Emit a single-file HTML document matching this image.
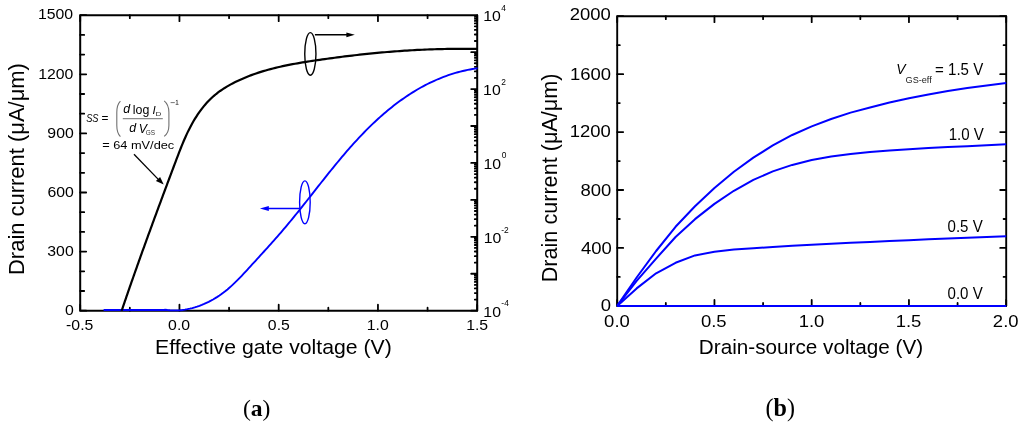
<!DOCTYPE html>
<html><head><meta charset="utf-8"><title>Drain current plots</title>
<style>html,body{margin:0;padding:0;background:#fff;width:1024px;height:430px;overflow:hidden}svg{display:block;will-change:transform}</style></head>
<body>
<svg width="1024" height="430" viewBox="0 0 1024 430">
<defs><clipPath id="ca"><rect x="80.2" y="15.2" width="397" height="295.5"/></clipPath></defs>
<rect width="1024" height="430" fill="#fff"/>
<rect x="80.2" y="15.2" width="397" height="295.5" fill="none" stroke="#000" stroke-width="2" stroke-linejoin="round"/>
<rect x="617.2" y="16.2" width="389" height="289.7" fill="none" stroke="#000" stroke-width="1.9" stroke-linejoin="round"/>
<path d="M80.2 310.7V304.7M80.2 15.2V21.2M129.82 310.7V307.7M129.82 15.2V18.2M179.45 310.7V304.7M179.45 15.2V21.2M229.07 310.7V307.7M229.07 15.2V18.2M278.7 310.7V304.7M278.7 15.2V21.2M328.32 310.7V307.7M328.32 15.2V18.2M377.95 310.7V304.7M377.95 15.2V21.2M427.57 310.7V307.7M427.57 15.2V18.2M477.2 310.7V304.7M477.2 15.2V21.2M80.2 310.7H86.2M80.2 291H84.2M80.2 271.3H84.2M80.2 251.6H86.2M80.2 231.9H84.2M80.2 212.2H84.2M80.2 192.5H86.2M80.2 172.8H84.2M80.2 153.1H84.2M80.2 133.4H86.2M80.2 113.7H84.2M80.2 94H84.2M80.2 74.3H86.2M80.2 54.6H84.2M80.2 34.9H84.2M80.2 15.2H86.2M477.2 310.7H471.2M477.2 299.58H474.8M477.2 293.08H474.8M477.2 288.46H474.8M477.2 284.88H474.8M477.2 281.96H474.8M477.2 279.48H474.8M477.2 277.34H474.8M477.2 275.45H474.8M477.2 273.76H471.2M477.2 262.64H474.8M477.2 256.14H474.8M477.2 251.52H474.8M477.2 247.94H474.8M477.2 245.02H474.8M477.2 242.55H474.8M477.2 240.4H474.8M477.2 238.52H474.8M477.2 236.82H471.2M477.2 225.71H474.8M477.2 219.2H474.8M477.2 214.59H474.8M477.2 211.01H474.8M477.2 208.08H474.8M477.2 205.61H474.8M477.2 203.47H474.8M477.2 201.58H474.8M477.2 199.89H471.2M477.2 188.77H474.8M477.2 182.26H474.8M477.2 177.65H474.8M477.2 174.07H474.8M477.2 171.14H474.8M477.2 168.67H474.8M477.2 166.53H474.8M477.2 164.64H474.8M477.2 162.95H471.2M477.2 151.83H474.8M477.2 145.33H474.8M477.2 140.71H474.8M477.2 137.13H474.8M477.2 134.21H474.8M477.2 131.73H474.8M477.2 129.59H474.8M477.2 127.7H474.8M477.2 126.01H471.2M477.2 114.89H474.8M477.2 108.39H474.8M477.2 103.77H474.8M477.2 100.19H474.8M477.2 97.27H474.8M477.2 94.8H474.8M477.2 92.65H474.8M477.2 90.77H474.8M477.2 89.07H471.2M477.2 77.96H474.8M477.2 71.45H474.8M477.2 66.84H474.8M477.2 63.26H474.8M477.2 60.33H474.8M477.2 57.86H474.8M477.2 55.72H474.8M477.2 53.83H474.8M477.2 52.14H471.2M477.2 41.02H474.8M477.2 34.51H474.8M477.2 29.9H474.8M477.2 26.32H474.8M477.2 23.39H474.8M477.2 20.92H474.8M477.2 18.78H474.8M477.2 16.89H474.8M617.2 305.9V299.9M617.2 16.2V22.2M665.83 305.9V302.9M665.83 16.2V19.2M714.45 305.9V299.9M714.45 16.2V22.2M763.08 305.9V302.9M763.08 16.2V19.2M811.7 305.9V299.9M811.7 16.2V22.2M860.33 305.9V302.9M860.33 16.2V19.2M908.95 305.9V299.9M908.95 16.2V22.2M957.58 305.9V302.9M957.58 16.2V19.2M1006.2 305.9V299.9M1006.2 16.2V22.2M617.2 305.9H623.2M1006.2 305.9H1000.2M617.2 276.93H619.8M1006.2 276.93H1003.6M617.2 247.96H623.2M1006.2 247.96H1000.2M617.2 218.99H619.8M1006.2 218.99H1003.6M617.2 190.02H623.2M1006.2 190.02H1000.2M617.2 161.05H619.8M1006.2 161.05H1003.6M617.2 132.08H623.2M1006.2 132.08H1000.2M617.2 103.11H619.8M1006.2 103.11H1003.6M617.2 74.14H623.2M1006.2 74.14H1000.2M617.2 45.17H619.8M1006.2 45.17H1003.6M617.2 16.2H623.2M1006.2 16.2H1000.2" stroke="#000" stroke-width="1.8" fill="none" stroke-linecap="round"/>
<path d="M103.6 310H165L164.93 309.76L167.42 310.06L169.92 310.28L172.42 310.4L174.93 310.42L177.44 310.36L179.94 310.2L182.44 309.94L184.92 309.61L187.4 309.18L189.85 308.67L192.29 308.08L194.71 307.4L197.1 306.65L199.47 305.83L201.81 304.93L204.13 303.97L206.41 302.93L208.67 301.84L210.89 300.68L213.08 299.46L215.24 298.18L217.37 296.85L219.46 295.46L221.51 294.02L223.53 292.53L225.51 290.99L227.45 289.41L229.36 287.78L231.24 286.11L233.09 284.41L234.9 282.68L236.69 280.93L238.46 279.15L240.21 277.35L241.94 275.53L243.66 273.71L245.36 271.87L247.06 270.02L248.76 268.17L250.45 266.32L252.15 264.47L253.84 262.62L255.54 260.77L257.23 258.92L258.92 257.07L260.61 255.22L262.3 253.37L263.99 251.51L265.68 249.65L267.36 247.79L269.03 245.92L270.71 244.06L272.38 242.19L274.05 240.31L275.71 238.43L277.36 236.54L279.01 234.66L280.65 232.76L282.29 230.86L283.92 228.95L285.54 227.04L287.16 225.12L288.77 223.19L290.37 221.26L291.96 219.33L293.55 217.38L295.13 215.44L296.71 213.49L298.29 211.54L299.85 209.58L301.42 207.62L302.98 205.65L304.54 203.69L306.1 201.72L307.65 199.75L309.2 197.78L310.76 195.81L312.31 193.84L313.86 191.87L315.41 189.9L316.96 187.92L318.51 185.95L320.06 183.98L321.62 182.02L323.17 180.05L324.73 178.08L326.3 176.12L327.86 174.16L329.43 172.2L331.01 170.25L332.59 168.3L334.17 166.36L335.76 164.42L337.35 162.48L338.96 160.55L340.56 158.62L342.18 156.71L343.8 154.79L345.43 152.89L347.07 150.99L348.72 149.1L350.38 147.21L352.04 145.34L353.72 143.47L355.41 141.62L357.11 139.77L358.81 137.93L360.53 136.11L362.26 134.29L364.01 132.49L365.76 130.7L367.53 128.92L369.31 127.15L371.11 125.4L372.92 123.66L374.74 121.94L376.58 120.23L378.43 118.53L380.29 116.86L382.17 115.19L384.07 113.55L385.98 111.92L387.9 110.32L389.84 108.73L391.8 107.16L393.77 105.61L395.76 104.08L397.76 102.57L399.78 101.08L401.82 99.61L403.87 98.17L405.94 96.75L408.02 95.36L410.12 93.99L412.24 92.64L414.38 91.33L416.53 90.03L418.69 88.77L420.88 87.54L423.08 86.33L425.29 85.15L427.53 84.01L429.77 82.9L432.04 81.81L434.32 80.77L436.61 79.75L438.92 78.77L441.24 77.82L443.58 76.92L445.93 76.04L448.3 75.21L450.67 74.41L453.06 73.65L455.47 72.93L457.88 72.25L460.31 71.61L462.74 71.01L465.19 70.45L467.64 69.93L470.11 69.46L472.58 69.03L475.06 68.64L477.54 68.29" stroke="#0000ff" stroke-width="1.9" fill="none" stroke-linejoin="round"/>
<path d="M119.76 316.39L121.68 310.71L122.49 308.33L123.3 305.96L124.1 303.58L124.92 301.21L125.73 298.83L126.54 296.46L127.36 294.09L128.18 291.71L129 289.34L129.83 286.97L130.65 284.6L131.48 282.23L132.31 279.87L133.14 277.5L133.97 275.13L134.8 272.76L135.64 270.4L136.48 268.03L137.31 265.67L138.16 263.3L139 260.94L139.84 258.58L140.69 256.21L141.53 253.85L142.38 251.49L143.23 249.13L144.09 246.77L144.94 244.41L145.79 242.05L146.65 239.69L147.51 237.33L148.36 234.98L149.22 232.62L150.08 230.26L150.95 227.9L151.81 225.55L152.67 223.19L153.54 220.84L154.41 218.48L155.27 216.13L156.14 213.77L157.01 211.42L157.88 209.07L158.75 206.71L159.63 204.36L160.5 202.01L161.37 199.66L162.25 197.3L163.12 194.95L164 192.6L164.88 190.25L165.76 187.9L166.64 185.55L167.51 183.2L168.39 180.85L169.27 178.5L170.16 176.15L171.04 173.8L171.92 171.45L172.8 169.1L173.68 166.75L174.57 164.41L175.45 162.06L176.34 159.71L177.22 157.36L178.11 155.02L179.01 152.67L179.92 150.34L180.85 148L181.78 145.67L182.74 143.35L183.71 141.04L184.7 138.74L185.72 136.44L186.77 134.16L187.84 131.89L188.95 129.64L190.09 127.41L191.26 125.19L192.47 122.99L193.72 120.81L195.01 118.66L196.35 116.54L197.73 114.44L199.15 112.38L200.63 110.35L202.15 108.35L203.71 106.39L205.33 104.47L207 102.6L208.72 100.77L210.5 99L212.32 97.28L214.2 95.61L216.13 94.01L218.11 92.46L220.13 90.98L222.2 89.56L224.3 88.19L226.44 86.87L228.6 85.61L230.79 84.39L233.01 83.21L235.25 82.07L237.5 80.97L239.78 79.91L242.07 78.89L244.37 77.9L246.69 76.94L249.03 76.02L251.38 75.14L253.73 74.28L256.1 73.46L258.49 72.66L260.88 71.9L263.28 71.17L265.68 70.46L268.1 69.78L270.52 69.12L272.95 68.49L275.38 67.88L277.82 67.3L280.27 66.74L282.72 66.19L285.17 65.67L287.63 65.16L290.09 64.67L292.56 64.2L295.02 63.74L297.49 63.3L299.96 62.87L302.44 62.45L304.92 62.05L307.39 61.65L309.87 61.26L312.35 60.89L314.83 60.51L317.32 60.15L319.8 59.79L322.28 59.43L324.77 59.08L327.25 58.74L329.74 58.4L332.23 58.06L334.71 57.73L337.2 57.4L339.69 57.08L342.18 56.76L344.67 56.45L347.16 56.15L349.65 55.85L352.14 55.55L354.64 55.26L357.13 54.98L359.62 54.7L362.12 54.43L364.61 54.16L367.11 53.9L369.6 53.64L372.1 53.39L374.6 53.15L377.1 52.91L379.59 52.68L382.09 52.45L384.59 52.23L387.09 52.02L389.59 51.81L392.1 51.61L394.6 51.42L397.1 51.23L399.6 51.05L402.11 50.88L404.61 50.71L407.11 50.55L409.62 50.4L412.12 50.25L414.63 50.11L417.13 49.97L419.64 49.85L422.15 49.73L424.65 49.62L427.16 49.51L429.67 49.41L432.18 49.32L434.68 49.24L437.19 49.16L439.7 49.09L442.21 49.03L444.72 48.98L447.23 48.93L449.73 48.89L452.24 48.86L454.75 48.83L457.26 48.82L459.77 48.81L462.28 48.81L464.79 48.81L467.3 48.83L469.81 48.85L472.32 48.88L474.83 48.91L477.34 48.96" stroke="#000" stroke-width="2.2" fill="none" stroke-linejoin="round" clip-path="url(#ca)"/>
<path d="M617.2 305.9L636.65 277.5L656.1 251L675.55 226.8L695 206.21L714.45 187.92L733.9 171.76L753.35 157.62L772.8 145.46L792.25 134.97L811.7 126.36L831.15 119.06L850.6 112.62L870.05 107.45L889.5 102.56L908.95 98.19L928.4 94.4L947.85 90.94L967.3 88.02L986.75 85.41L1006.2 83.1" stroke="#0000ff" stroke-width="2" fill="none" stroke-linejoin="round"/>
<path d="M617.2 305.9L636.65 280.8L656.1 258.6L675.55 237L695 219.16L714.45 203.84L733.9 190.78L753.35 179.93L772.8 171.42L792.25 164.91L811.7 160.05L831.15 156.54L850.6 154.03L870.05 151.93L889.5 150.53L908.95 149.32L928.4 148.1L947.85 147.01L967.3 146.14L986.75 145.17L1006.2 144.3" stroke="#0000ff" stroke-width="2" fill="none" stroke-linejoin="round"/>
<path d="M617.2 305.9L636.65 288.4L656.1 273.3L675.55 262.8L695 255.4L714.45 251.7L733.9 249.6L753.35 248.28L772.8 247.03L792.25 245.85L811.7 244.75L831.15 243.73L850.6 242.77L870.05 241.9L889.5 241.06L908.95 240.19L928.4 239.26L947.85 238.39L967.3 237.66L986.75 236.99L1006.2 236.3" stroke="#0000ff" stroke-width="2" fill="none" stroke-linejoin="round"/>
<path d="M617.2 305.9L1006.2 305.9" stroke="#0000ff" stroke-width="2" fill="none"/>
<ellipse cx="310.35" cy="53.95" rx="5.6" ry="21.3" fill="none" stroke="#000" stroke-width="1.4"/>
<path d="M314.9 34.8H348" stroke="#000" stroke-width="1.4"/>
<path d="M354.8 34.8L346.4 32.4L346.4 37.2Z" fill="#000"/>
<ellipse cx="304.9" cy="202.3" rx="5.3" ry="21.4" fill="none" stroke="#0000ff" stroke-width="1.4"/>
<path d="M299.8 208.5H266" stroke="#0000ff" stroke-width="1.4"/>
<path d="M259.9 208.5L268.8 206.0L268.8 211.0Z" fill="#0000ff"/>
<path d="M134 154.2L159.5 180.6" stroke="#000" stroke-width="1.3"/>
<path d="M163.7 184.6L155.9 181.0L160.1 176.9Z" fill="#000"/>
<path d="M170.6 102.6H174.8" stroke="#666" stroke-width="0.9"/>
<path d="M175.9 100.9L177.1 100.1V104.3M175.7 104.4H178.5" stroke="#555" stroke-width="0.9" fill="none"/>
<path d="M122.8 118.7H162.8" stroke="#8c8c8c" stroke-width="1.2"/>
<path d="M120.4 101.2C117.6 104 116.8 108 116.8 112.5V125.5C116.8 130 117.6 133.8 120.4 136.6" stroke="#707070" stroke-width="1.1" fill="none"/>
<path d="M164.2 100.9C167.8 103.8 168.9 108 168.9 112.5V125.5C168.9 130 167.8 133.6 164.2 136.4" stroke="#707070" stroke-width="1.1" fill="none"/>
<text id="ya1500" font-family='"Liberation Sans", sans-serif' font-size="14.45" textLength="35.16" lengthAdjust="spacingAndGlyphs" x="37.97" y="19.19">1500</text>
<text id="ya1200" font-family='"Liberation Sans", sans-serif' font-size="14.45" textLength="35.16" lengthAdjust="spacingAndGlyphs" x="38.18" y="79.07">1200</text>
<text id="ya900" font-family='"Liberation Sans", sans-serif' font-size="14.45" textLength="26.37" lengthAdjust="spacingAndGlyphs" x="47.38" y="138">900</text>
<text id="ya600" font-family='"Liberation Sans", sans-serif' font-size="14.45" textLength="26.37" lengthAdjust="spacingAndGlyphs" x="47.46" y="196.57">600</text>
<text id="ya300" font-family='"Liberation Sans", sans-serif' font-size="14.45" textLength="26.37" lengthAdjust="spacingAndGlyphs" x="47.33" y="256.09">300</text>
<text id="ya0" font-family='"Liberation Sans", sans-serif' font-size="14.45" textLength="8.79" lengthAdjust="spacingAndGlyphs" x="65.02" y="314.59">0</text>
<text id="xa1" font-family='"Liberation Sans", sans-serif' font-size="14.45" textLength="27.24" lengthAdjust="spacingAndGlyphs" x="66.09" y="330">-0.5</text>
<text id="xa2" font-family='"Liberation Sans", sans-serif' font-size="14.45" textLength="21.97" lengthAdjust="spacingAndGlyphs" x="168.1" y="330">0.0</text>
<text id="xa3" font-family='"Liberation Sans", sans-serif' font-size="14.45" textLength="21.97" lengthAdjust="spacingAndGlyphs" x="267.89" y="330">0.5</text>
<text id="xa4" font-family='"Liberation Sans", sans-serif' font-size="14.45" textLength="21.97" lengthAdjust="spacingAndGlyphs" x="366.73" y="330">1.0</text>
<text id="xa5" font-family='"Liberation Sans", sans-serif' font-size="14.45" textLength="21.97" lengthAdjust="spacingAndGlyphs" x="466.19" y="330">1.5</text>
<text id="r4" font-family='"Liberation Sans", sans-serif' font-size="14.45" textLength="17.58" lengthAdjust="spacingAndGlyphs" x="483.34" y="20.54">10</text>
<text id="r2" font-family='"Liberation Sans", sans-serif' font-size="14.45" textLength="17.58" lengthAdjust="spacingAndGlyphs" x="483.14" y="94.83">10</text>
<text id="r0" font-family='"Liberation Sans", sans-serif' font-size="14.45" textLength="17.58" lengthAdjust="spacingAndGlyphs" x="483.44" y="169.06">10</text>
<text id="rm2" font-family='"Liberation Sans", sans-serif' font-size="14.45" textLength="17.58" lengthAdjust="spacingAndGlyphs" x="483.79" y="242.88">10</text>
<text id="rm4" font-family='"Liberation Sans", sans-serif' font-size="14.45" textLength="17.58" lengthAdjust="spacingAndGlyphs" x="483.39" y="316.61">10</text>
<text id="s4" font-family='"Liberation Sans", sans-serif' font-size="8.39" textLength="4.69" lengthAdjust="spacingAndGlyphs" x="501.36" y="10.54">4</text>
<text id="s2" font-family='"Liberation Sans", sans-serif' font-size="8.39" textLength="4.69" lengthAdjust="spacingAndGlyphs" x="501.35" y="84.56">2</text>
<text id="s0" font-family='"Liberation Sans", sans-serif' font-size="8.39" textLength="4.69" lengthAdjust="spacingAndGlyphs" x="501.67" y="158.42">0</text>
<text id="sm2" font-family='"Liberation Sans", sans-serif' font-size="8.39" textLength="7.5" lengthAdjust="spacingAndGlyphs" x="501.24" y="232.84">-2</text>
<text id="sm4" font-family='"Liberation Sans", sans-serif' font-size="8.39" textLength="7.5" lengthAdjust="spacingAndGlyphs" x="501.38" y="306.19">-4</text>
<text id="yb2000" font-family='"Liberation Sans", sans-serif' font-size="16.81" textLength="41.1" lengthAdjust="spacingAndGlyphs" x="569.72" y="19.92">2000</text>
<text id="yb1600" font-family='"Liberation Sans", sans-serif' font-size="16.81" textLength="41.1" lengthAdjust="spacingAndGlyphs" x="569.99" y="80.1">1600</text>
<text id="yb1200" font-family='"Liberation Sans", sans-serif' font-size="16.81" textLength="41.1" lengthAdjust="spacingAndGlyphs" x="569.78" y="137.23">1200</text>
<text id="yb800" font-family='"Liberation Sans", sans-serif' font-size="16.81" textLength="30.82" lengthAdjust="spacingAndGlyphs" x="580.44" y="196.27">800</text>
<text id="yb400" font-family='"Liberation Sans", sans-serif' font-size="16.81" textLength="30.82" lengthAdjust="spacingAndGlyphs" x="580.95" y="254.27">400</text>
<text id="yb0" font-family='"Liberation Sans", sans-serif' font-size="16.81" textLength="10.28" lengthAdjust="spacingAndGlyphs" x="600.86" y="310.79">0</text>
<text id="xb1" font-family='"Liberation Sans", sans-serif' font-size="16.81" textLength="25.68" lengthAdjust="spacingAndGlyphs" x="604.12" y="327.28">0.0</text>
<text id="xb2" font-family='"Liberation Sans", sans-serif' font-size="16.81" textLength="25.68" lengthAdjust="spacingAndGlyphs" x="700.93" y="327.28">0.5</text>
<text id="xb3" font-family='"Liberation Sans", sans-serif' font-size="16.81" textLength="25.68" lengthAdjust="spacingAndGlyphs" x="798.72" y="327.28">1.0</text>
<text id="xb4" font-family='"Liberation Sans", sans-serif' font-size="16.81" textLength="25.68" lengthAdjust="spacingAndGlyphs" x="895.67" y="327.28">1.5</text>
<text id="xb5" font-family='"Liberation Sans", sans-serif' font-size="16.81" textLength="25.68" lengthAdjust="spacingAndGlyphs" x="992.86" y="327.28">2.0</text>
<text id="xla" font-family='"Liberation Sans", sans-serif' font-size="19.79" textLength="236.73" lengthAdjust="spacingAndGlyphs" x="155.04" y="354.44">Effective gate voltage (V)</text>
<text id="xlb" font-family='"Liberation Sans", sans-serif' font-size="20.92" textLength="224.35" lengthAdjust="spacingAndGlyphs" x="698.84" y="353.95">Drain-source voltage (V)</text>
<text id="yla" font-family='"Liberation Sans", sans-serif' font-size="22.37" textLength="211.89" lengthAdjust="spacingAndGlyphs" transform="translate(23.51 274.98) rotate(-90)" x="0" y="0">Drain current (μA/μm)</text>
<text id="ylb" font-family='"Liberation Sans", sans-serif' font-size="21.96" textLength="208.76" lengthAdjust="spacingAndGlyphs" transform="translate(557.22 282.3) rotate(-90)" x="0" y="0">Drain current (μA/μm)</text>
<text id="cV" font-family='"Liberation Sans", sans-serif' font-size="14.45" font-style="italic" textLength="9.3" lengthAdjust="spacingAndGlyphs" x="896.34" y="74.07">V</text>
<text id="cGS" font-family='"Liberation Sans", sans-serif' font-size="8.75" fill="#222" textLength="26.21" lengthAdjust="spacingAndGlyphs" x="905.54" y="82.59">GS-eff</text>
<text id="c15" font-family='"Liberation Sans", sans-serif' font-size="16.33" textLength="48.19" lengthAdjust="spacingAndGlyphs" x="935.04" y="74.81">= 1.5 V</text>
<text id="c10" font-family='"Liberation Sans", sans-serif' font-size="16.33" textLength="35.2" lengthAdjust="spacingAndGlyphs" x="948.67" y="140.23">1.0 V</text>
<text id="c05" font-family='"Liberation Sans", sans-serif' font-size="16.33" textLength="35.2" lengthAdjust="spacingAndGlyphs" x="947.53" y="232.09">0.5 V</text>
<text id="c00" font-family='"Liberation Sans", sans-serif' font-size="16.33" textLength="35.2" lengthAdjust="spacingAndGlyphs" x="947.53" y="298.72">0.0 V</text>
<text id="ss" font-family='"Liberation Sans", sans-serif' font-size="11.09" font-style="italic" textLength="12.36" lengthAdjust="spacingAndGlyphs" x="86.17" y="122.33">SS</text>
<text id="sseq" font-family='"Liberation Sans", sans-serif' font-size="11.5" textLength="6.92" lengthAdjust="spacingAndGlyphs" x="101.49" y="121.9">=</text>
<text id="nd" font-family='"Liberation Sans", sans-serif' font-size="12.36" font-style="italic" textLength="6.89" lengthAdjust="spacingAndGlyphs" x="123.35" y="113.47">d</text>
<text id="nlog" font-family='"Liberation Sans", sans-serif' font-size="12.36" textLength="16.52" lengthAdjust="spacingAndGlyphs" x="132.86" y="113.83">log</text>
<text id="nI" font-family='"Liberation Sans", sans-serif' font-size="11.5" font-style="italic" textLength="3.2" lengthAdjust="spacingAndGlyphs" x="152.5" y="113.9">I</text>
<text id="nD" font-family='"Liberation Sans", sans-serif' font-size="6.13" fill="#333" textLength="5.91" lengthAdjust="spacingAndGlyphs" x="155.42" y="116.36">D</text>
<text id="dd" font-family='"Liberation Sans", sans-serif' font-size="12.36" font-style="italic" textLength="6.89" lengthAdjust="spacingAndGlyphs" x="129.21" y="131.91">d</text>
<text id="dV" font-family='"Liberation Sans", sans-serif' font-size="12.36" font-style="italic" textLength="8.26" lengthAdjust="spacingAndGlyphs" x="138.72" y="132.8">V</text>
<text id="dGS" font-family='"Liberation Sans", sans-serif' font-size="6.76" fill="#333" textLength="9.33" lengthAdjust="spacingAndGlyphs" x="145.8" y="134.92">GS</text>
<text id="eq64" font-family='"Liberation Sans", sans-serif' font-size="11.5" textLength="72.01" lengthAdjust="spacingAndGlyphs" x="102.21" y="149.3">= 64 mV/dec</text>
<text id="pa" font-family='"Liberation Serif", serif' font-size="24.1" textLength="27.51" lengthAdjust="spacingAndGlyphs" x="242.91" y="415.8">(<tspan font-weight="bold">a</tspan>)</text>
<text id="pb" font-family='"Liberation Serif", serif' font-size="24.84" textLength="29.49" lengthAdjust="spacingAndGlyphs" x="765.43" y="416.38">(<tspan font-weight="bold">b</tspan>)</text>
</svg>
</body></html>
